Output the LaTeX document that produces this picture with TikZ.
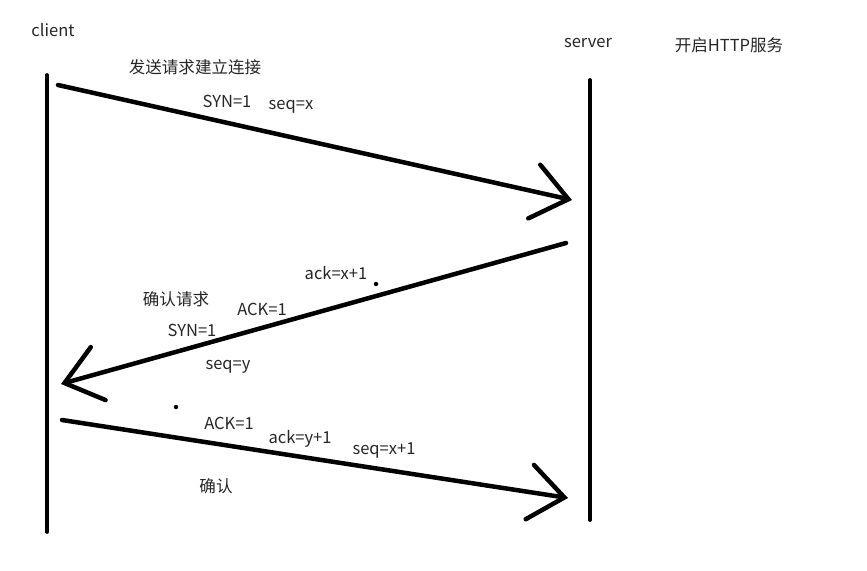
\documentclass[tikz,border=0pt]{standalone}
\usepackage{fontspec}
\setmainfont{Noto Sans CJK SC}
\usepackage{tikz}
\usetikzlibrary{arrows.meta}

\tikzset{
  lifeline/.style={line width=0.075cm,line cap=round},
  msg/.style={line width=0.09cm,line cap=round,-{Straight Barb[length=0.7cm,width=1.1cm,line cap=round]}},
  lbl/.style={inner sep=0pt,text=black!85,font=\fontsize{9.4}{11}\selectfont},
  speck/.style={fill=black,circle,inner sep=0pt,minimum size=0.09cm}
}

\begin{document}
\begin{tikzpicture}[x=0.02cm,y=-0.02cm]
\useasboundingbox (0,0) rectangle (867,571);

% lifelines
\coordinate (c0) at (47,75);
\coordinate (c1) at (47,532);
\coordinate (s0) at (590,80);
\coordinate (s1) at (590,520);
\draw[lifeline] (c0) -- (c1);
\draw[lifeline] (s0) -- (s1);

% message end points
\coordinate (m1a) at (58,85);
\coordinate (m1b) at (572,200);
\coordinate (m2a) at (566,243);
\coordinate (m2b) at (61,384);
\coordinate (m3a) at (62,420);
\coordinate (m3b) at (568,498);

\draw[msg] (m1a) -- (m1b);
\draw[msg] (m2a) -- (m2b);
\draw[msg] (m3a) -- (m3b);

% labels
\node[lbl] (client) at (53,30) {client};
\node[lbl] (server) at (588,43) {server};
\node[lbl] (httpnote) at (729,45) {开启HTTP服务};

\node[lbl] (sendreq) at (195,67) {发送请求建立连接};
\node[lbl] (syn1) at (227,101) {SYN=1};
\node[lbl] (seqx) at (291,107) {seq=x};

\node[lbl] (ackx) at (336,273) {ack=x+1};
\node[lbl] (confreq) at (176,299) {确认请求};
\node[lbl] (ack1) at (262,309) {ACK=1};
\node[lbl] (syn2) at (192,330) {SYN=1};
\node[lbl] (seqy) at (228,367) {seq=y};

\node[lbl] (ack2) at (229,423) {ACK=1};
\node[lbl] (acky) at (300,439) {ack=y+1};
\node[lbl] (seqx1) at (384,451) {seq=x+1};
\node[lbl] (conf) at (216,486) {确认};

% stray specks
\node[speck] (dot1) at (376,284) {};
\node[speck] (dot2) at (176,407) {};
\end{tikzpicture}
\end{document}
